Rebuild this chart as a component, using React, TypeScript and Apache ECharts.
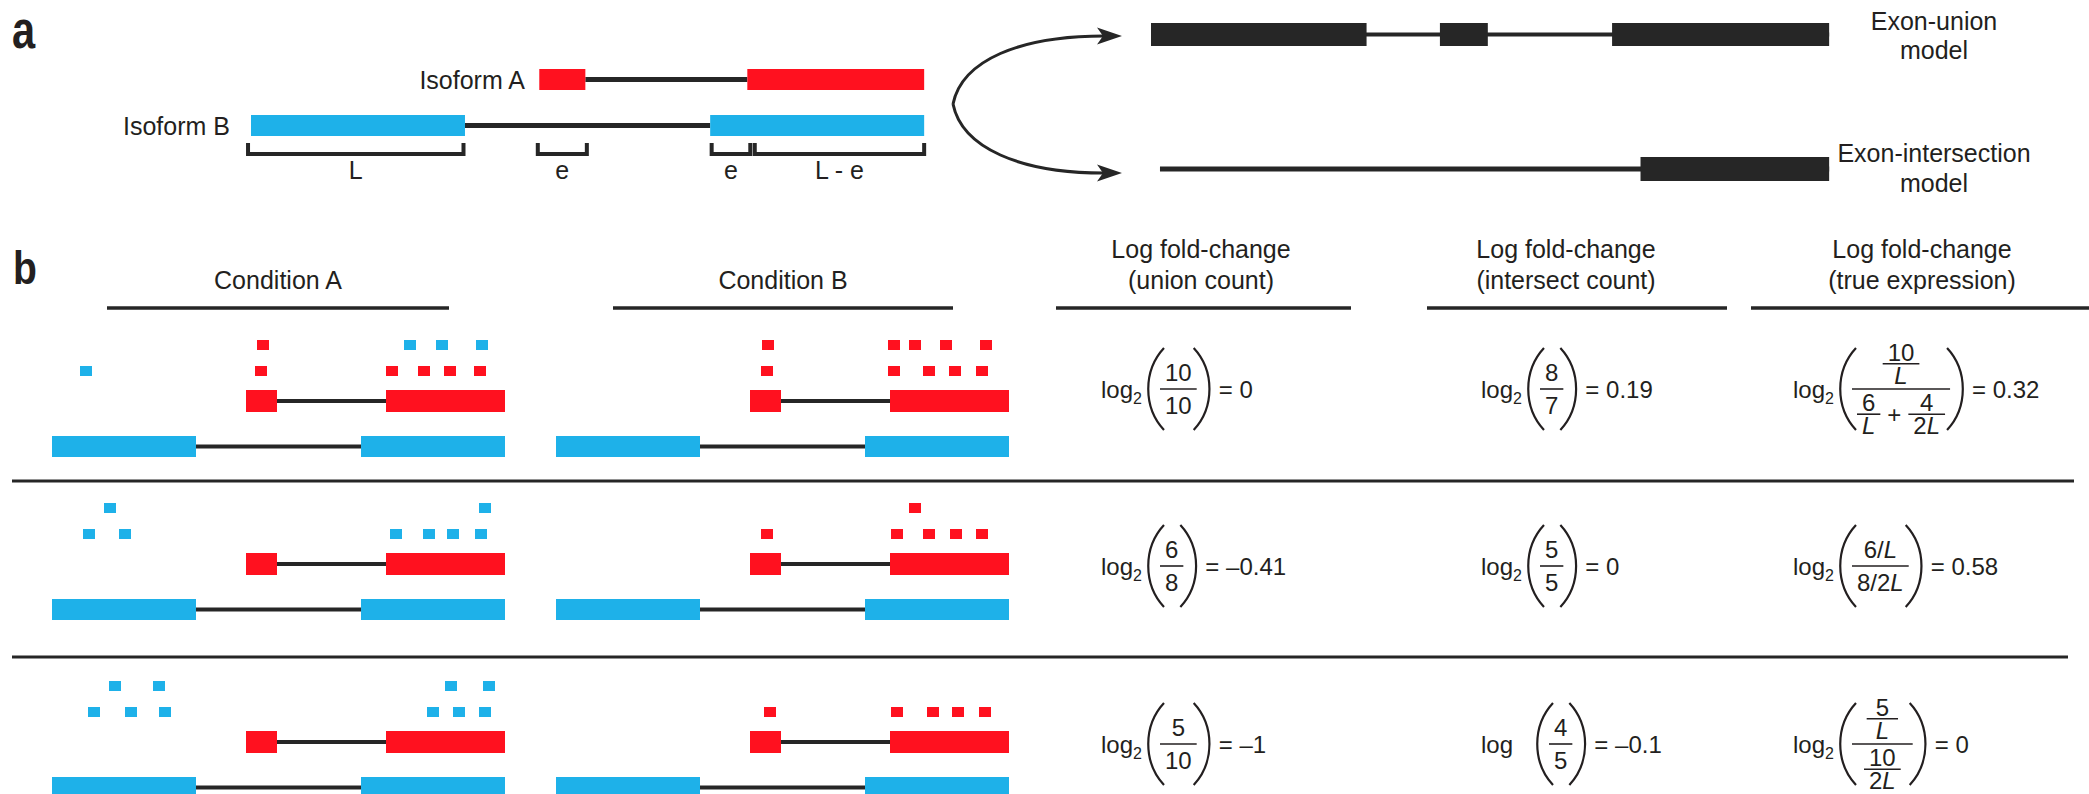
import React, { useEffect, useRef } from "react";
import * as echarts from "echarts";

const W = 2089;
const H = 794;

// ---------------- data ----------------
// gene model, positions along the gene (panel-b units)
const isoformAExons = [[194, 225], [334, 453]];
const isoformBExons = [[0, 144], [309, 453]];
const bracketSpans = [[-2, 143], [193, 226], [310, 336], [339, 453]];
const bracketLabels = ["L", "e", "e", "L - e"];
const unionModelExons = [[0, 144], [193, 225], [308, 453]];
const unionModelSpan = [0, 453];
const intersectModelExons = [[327, 453]];
const intersectModelSpan = [6, 453];

const isoformNames = ["Isoform A", "Isoform B"];
const modelNames = [["Exon-union", "model"], ["Exon-intersection", "model"]];
const conditionNames = ["Condition A", "Condition B"];
const columnTitles = [
  ["Log fold-change", "(union count)"],
  ["Log fold-change", "(intersect count)"],
  ["Log fold-change", "(true expression)"],
];

// reads: [centre along gene, stack level (1 lower, 2 upper), isoform (0 = A red, 1 = B blue)]
const readsRow1CondA = [[34, 1, 1], [209, 1, 0], [211, 2, 0], [340, 1, 0], [372, 1, 0], [398, 1, 0], [428, 1, 0], [358, 2, 1], [390, 2, 1], [430, 2, 1]];
const readsRow1CondB = [[211, 1, 0], [212, 2, 0], [338, 1, 0], [373, 1, 0], [399, 1, 0], [426, 1, 0], [338, 2, 0], [359, 2, 0], [390, 2, 0], [430, 2, 0]];
const readsRow2CondA = [[37, 1, 1], [73, 1, 1], [58, 2, 1], [344, 1, 1], [377, 1, 1], [401, 1, 1], [429, 1, 1], [433, 2, 1]];
const readsRow2CondB = [[211, 1, 0], [341, 1, 0], [373, 1, 0], [400, 1, 0], [426, 1, 0], [359, 2, 0]];
const readsRow3CondA = [[42, 1, 1], [79, 1, 1], [113, 1, 1], [63, 2, 1], [107, 2, 1], [381, 1, 1], [407, 1, 1], [433, 1, 1], [399, 2, 1], [437, 2, 1]];
const readsRow3CondB = [[214, 1, 0], [341, 1, 0], [377, 1, 0], [402, 1, 0], [429, 1, 0]];
const readsByRow = [
  [readsRow1CondA, readsRow1CondB],
  [readsRow2CondA, readsRow2CondB],
  [readsRow3CondA, readsRow3CondB],
];

// formulas
const unionFractions = [["10", "10"], ["6", "8"], ["5", "10"]];
const unionValues = ["0", "\u20130.41", "\u20131"];
const intersectFractions = [["8", "7"], ["5", "5"], ["4", "5"]];
const intersectValues = ["0.19", "0", "\u20130.1"];
const intersectLogBases = ["2", "2", ""];
const trueValues = ["0.32", "0.58", "0"];

// ---------------- layout & style ----------------
const panelA = { x0: 251, scale: 1.486, isoY: [[69, 90], [115, 136]], intronW: 5, bracketY: [143, 154], bracketTextY: 170, nameRightX: [525, 230] };
const models = { x0: 1151, scale: 1.497, unionY: [23, 46], interY: [157, 181], textX: 1934, textY: [[21, 50], [153, 183]] };
const arrowPaths = [
  [953, 104, 962, 60, 1020, 36, 1104, 36],
  [953, 104, 962, 148, 1020, 173, 1104, 173],
];
const arrowTipX = 1122;
const panelB = { condX: [52, 556], rowTop: [390, 553, 731], redH: 22, blueOff: 46, blueH: 21, levelOff: [0, 19, 45], readW: 12, readH: 10, intronW: 4 };
const headerLineY = 308;
const conditionLines = [[107, 449], [613, 953]];
const columnLines = [[1056, 1351], [1427, 1727], [1751, 2089]];
const columnTitleX = [1201, 1566, 1922];
const titleY = [249, 280];
const separators = [[12, 2074, 481], [12, 2068, 657]];
const formulaX = [1101, 1481, 1793];
const formulaY = [389, 566, 744];

const COLORS = ["#FF111F", "#1EB1E9", "#262626"];
const TEXT = "#231F20";
const FONT = '"Liberation Sans", Arial, Helvetica, sans-serif';
const LABEL_FS = 25;
const FS = 24;

// ---------------- text measuring ----------------
let measureCtx: CanvasRenderingContext2D | null = null;
function tw(s: string, size: number, italic = false, bold = false): number {
  if (!measureCtx) measureCtx = document.createElement("canvas").getContext("2d");
  if (!measureCtx) return s.length * size * 0.55;
  measureCtx.font = `${italic ? "italic " : ""}${bold ? "bold " : ""}${size}px ${FONT}`;
  return measureCtx.measureText(s).width;
}

function textEl(s: string, x: number, y: number, size: number, o: any = {}) {
  return {
    type: "text",
    x,
    y,
    scaleX: o.scaleX ?? 1,
    style: {
      text: s,
      fill: TEXT,
      fontSize: size,
      fontFamily: FONT,
      fontWeight: o.bold ? "bold" : "normal",
      fontStyle: o.italic ? "italic" : "normal",
      align: o.align || "left",
      verticalAlign: "middle",
    },
  };
}

// ---------------- formula layout ----------------
type Node = { t: "txt"; s: string } | { t: "frac"; n: Node; d: Node; pad?: number } | { t: "row"; items: Node[] };
const tx = (s: string): Node => ({ t: "txt", s });
const asNode = (v: Node | string): Node => (typeof v === "string" ? tx(v) : v);
const fr = (n: Node | string, d: Node | string, pad?: number): Node => ({ t: "frac", n: asNode(n), d: asNode(d), pad });
const rw = (...items: (Node | string)[]): Node => ({ t: "row", items: items.map(asNode) });

const trueTrees: Node[] = [
  fr(fr("10", "L"), rw(fr("6", "L"), "+", fr("4", "2L"))),
  fr("6/L", "8/2L"),
  fr(fr("5", "L", 9), fr("10", "2L"), 12),
];

const HALF = 8.6;
const PAD = 5;
const SP = 7;

function runsOf(s: string) {
  const out: { s: string; it: boolean }[] = [];
  for (const ch of s) {
    const it = ch === "L";
    const last = out[out.length - 1];
    if (last && last.it === it) last.s += ch;
    else out.push({ s: ch, it });
  }
  return out;
}
function hasFrac(n: Node): boolean {
  return n.t === "frac" || (n.t === "row" && n.items.some(hasFrac));
}
function gapOf(n: any, lvl: number) {
  if (lvl > 0) return 3;
  return hasFrac(n.n) || hasFrac(n.d) ? 5 : 8;
}
function measure(n: Node, lvl: number): { w: number; up: number; down: number } {
  if (n.t === "txt") {
    const w = runsOf(n.s).reduce((a, r) => a + tw(r.s, FS, r.it), 0);
    return { w, up: HALF, down: HALF };
  }
  if (n.t === "row") {
    let w = 0, up = 0, down = 0;
    n.items.forEach((it, i) => {
      const m = measure(it, lvl);
      w += m.w + (i > 0 ? SP : 0);
      up = Math.max(up, m.up);
      down = Math.max(down, m.down);
    });
    return { w, up, down };
  }
  const g = gapOf(n, lvl);
  const a = measure(n.n, lvl + 1);
  const b = measure(n.d, lvl + 1);
  const pad = n.pad ?? PAD;
  return { w: Math.max(a.w, b.w) + 2 * pad, up: g + a.up + a.down, down: g + b.up + b.down };
}
function draw(n: Node, x: number, y: number, lvl: number, out: any[]) {
  if (n.t === "txt") {
    let cx = x;
    runsOf(n.s).forEach((r) => {
      out.push(textEl(r.s, cx, y, FS, { italic: r.it }));
      cx += tw(r.s, FS, r.it);
    });
    return;
  }
  if (n.t === "row") {
    let cx = x;
    n.items.forEach((it) => {
      const m = measure(it, lvl);
      draw(it, cx, y, lvl, out);
      cx += m.w + SP;
    });
    return;
  }
  const m = measure(n, lvl);
  const g = gapOf(n, lvl);
  const a = measure(n.n, lvl + 1);
  const b = measure(n.d, lvl + 1);
  out.push({ type: "line", shape: { x1: x, y1: y, x2: x + m.w, y2: y }, style: { stroke: TEXT, lineWidth: 1.6 } });
  draw(n.n, x + (m.w - a.w) / 2, y - g - a.down, lvl + 1, out);
  draw(n.d, x + (m.w - b.w) / 2, y + g + b.up, lvl + 1, out);
}
function parenEl(xb: number, y: number, dir: number, h: number) {
  const tip = xb + dir * 16;
  const cp = xb - dir * 5;
  return {
    type: "bezierCurve",
    shape: { x1: tip, y1: y - h, cpx1: cp, cpy1: y - h * 0.45, cpx2: cp, cpy2: y + h * 0.45, x2: tip, y2: y + h },
    style: { stroke: TEXT, lineWidth: 2.2, fill: "none" },
  };
}
function buildFormula(f: any, x: number, y: number) {
  const out: any[] = [];
  out.push(textEl("log", x, y, FS));
  if (f.sub) out.push(textEl(f.sub, x + tw("log", FS), y + 9, 16));
  const xb = x + 47 + (f.sub ? 0 : 9);
  const barStart = xb + 12;
  const m = measure(f.node, 0);
  draw(f.node, barStart, y, 0, out);
  const xe = barStart + m.w;
  out.push(parenEl(xb, y, 1, 41));
  out.push(parenEl(xe + 13, y, -1, 41));
  out.push(textEl("= " + f.value, xe + 22, y, FS));
  return out;
}

// ---------------- option ----------------
function buildOption() {
  const ax = (u: number) => panelA.x0 + u * panelA.scale;
  const mx = (u: number) => models.x0 + u * models.scale;

  const rects: number[][] = [];
  const lines: number[][] = [];
  const reads: number[][] = [];
  const brackets: number[][] = [];

  // panel a isoforms
  [isoformAExons, isoformBExons].forEach((ex, iso) => {
    const [y0, y1] = panelA.isoY[iso];
    const yc = (y0 + y1) / 2;
    for (let i = 0; i < ex.length - 1; i++) lines.push([ax(ex[i][1]), yc, ax(ex[i + 1][0]), yc, panelA.intronW]);
    ex.forEach(([s, e]) => rects.push([ax(s), ax(e), y0, y1, iso]));
  });
  bracketSpans.forEach(([s, e]) => brackets.push([ax(s), ax(e), panelA.bracketY[0], panelA.bracketY[1]]));

  // exon-union / exon-intersection models
  const uyc = (models.unionY[0] + models.unionY[1]) / 2;
  const iyc = (models.interY[0] + models.interY[1]) / 2;
  lines.push([mx(unionModelSpan[0]), uyc, mx(unionModelSpan[1]), uyc, 4]);
  lines.push([mx(intersectModelSpan[0]), iyc, mx(intersectModelSpan[1]), iyc, 5]);
  unionModelExons.forEach(([s, e]) => rects.push([mx(s), mx(e), models.unionY[0], models.unionY[1], 2]));
  intersectModelExons.forEach(([s, e]) => rects.push([mx(s), mx(e), models.interY[0], models.interY[1], 2]));

  // panel b gene models + reads
  panelB.rowTop.forEach((top, r) => {
    panelB.condX.forEach((cx, c) => {
      [isoformAExons, isoformBExons].forEach((ex, iso) => {
        const y0 = iso === 0 ? top : top + panelB.blueOff;
        const y1 = iso === 0 ? top + panelB.redH : top + panelB.blueOff + panelB.blueH;
        const yc = (y0 + y1) / 2;
        for (let i = 0; i < ex.length - 1; i++) lines.push([cx + ex[i][1], yc, cx + ex[i + 1][0], yc, panelB.intronW]);
        ex.forEach(([s, e]) => rects.push([cx + s, cx + e, y0, y1, iso]));
      });
      readsByRow[r][c].forEach(([pos, lvl, iso]) => reads.push([cx + pos, top - panelB.levelOff[lvl], iso]));
    });
  });

  // header lines and separators
  [...conditionLines, ...columnLines].forEach(([a, b]) => lines.push([a, headerLineY, b, headerLineY, 3.5]));
  separators.forEach(([a, b, y]) => lines.push([a, y, b, y, 3]));

  // texts
  const texts: any[] = [];
  texts.push({ s: "a", x: 12, y: 30, size: 52, bold: true, scaleX: 0.8 });
  texts.push({ s: "b", x: 13, y: 268, size: 46, bold: true, scaleX: 0.85 });
  isoformNames.forEach((s, iso) =>
    texts.push({ s, x: panelA.nameRightX[iso], y: (panelA.isoY[iso][0] + panelA.isoY[iso][1]) / 2, size: LABEL_FS, align: "right" })
  );
  bracketSpans.forEach(([s, e], i) =>
    texts.push({ s: bracketLabels[i], x: (ax(s) + ax(e)) / 2, y: panelA.bracketTextY, size: LABEL_FS, align: "center" })
  );
  modelNames.forEach((pair, k) =>
    pair.forEach((s, j) => texts.push({ s, x: models.textX, y: models.textY[k][j], size: LABEL_FS, align: "center" }))
  );
  conditionNames.forEach((s, c) =>
    texts.push({ s, x: (conditionLines[c][0] + conditionLines[c][1]) / 2, y: titleY[1], size: LABEL_FS, align: "center" })
  );
  columnTitles.forEach((pair, k) =>
    pair.forEach((s, j) => texts.push({ s, x: columnTitleX[k], y: titleY[j], size: LABEL_FS, align: "center" }))
  );

  // formulas
  const formulas: any[] = [];
  for (let r = 0; r < 3; r++) {
    formulas.push({ x: formulaX[0], y: formulaY[r], sub: "2", node: fr(unionFractions[r][0], unionFractions[r][1]), value: unionValues[r] });
    formulas.push({ x: formulaX[1], y: formulaY[r], sub: intersectLogBases[r], node: fr(intersectFractions[r][0], intersectFractions[r][1]), value: intersectValues[r] });
    formulas.push({ x: formulaX[2], y: formulaY[r], sub: "2", node: trueTrees[r], value: trueValues[r] });
  }

  const base = { type: "custom", coordinateSystem: "cartesian2d", silent: true, clip: false, xAxisIndex: 0, yAxisIndex: 0 };

  return {
    animation: false,
    backgroundColor: "#ffffff",
    grid: { left: 0, right: 0, top: 0, bottom: 0, containLabel: false },
    xAxis: { type: "value", min: 0, max: W, show: false },
    yAxis: { type: "value", min: 0, max: H, inverse: true, show: false },
    series: [
      {
        ...base,
        name: "lines",
        z: 1,
        data: lines,
        renderItem: (_p: any, api: any) => {
          const a = api.coord([api.value(0), api.value(1)]);
          const b = api.coord([api.value(2), api.value(3)]);
          return { type: "line", shape: { x1: a[0], y1: a[1], x2: b[0], y2: b[1] }, style: { stroke: COLORS[2], lineWidth: api.value(4) } };
        },
      },
      {
        ...base,
        name: "exons",
        z: 2,
        data: rects,
        renderItem: (_p: any, api: any) => {
          const a = api.coord([api.value(0), api.value(2)]);
          const b = api.coord([api.value(1), api.value(3)]);
          return {
            type: "rect",
            shape: { x: Math.min(a[0], b[0]), y: Math.min(a[1], b[1]), width: Math.abs(b[0] - a[0]), height: Math.abs(b[1] - a[1]) },
            style: { fill: COLORS[api.value(4)] },
          };
        },
      },
      {
        ...base,
        name: "reads",
        z: 3,
        data: reads,
        renderItem: (_p: any, api: any) => {
          const c = api.coord([api.value(0), api.value(1)]);
          const s = api.size([panelB.readW, panelB.readH]);
          return { type: "rect", shape: { x: c[0] - s[0] / 2, y: c[1] - s[1] / 2, width: s[0], height: s[1] }, style: { fill: COLORS[api.value(2)] } };
        },
      },
      {
        ...base,
        name: "brackets",
        z: 3,
        data: brackets,
        renderItem: (_p: any, api: any) => {
          const a = api.coord([api.value(0), api.value(2)]);
          const b = api.coord([api.value(1), api.value(3)]);
          return {
            type: "polyline",
            shape: { points: [[a[0], a[1]], [a[0], b[1]], [b[0], b[1]], [b[0], a[1]]] },
            style: { stroke: COLORS[2], lineWidth: 4, fill: "none" },
          };
        },
      },
      {
        ...base,
        name: "arrows",
        z: 3,
        data: arrowPaths,
        renderItem: (_p: any, api: any) => {
          const p0 = api.coord([api.value(0), api.value(1)]);
          const c1 = api.coord([api.value(2), api.value(3)]);
          const c2 = api.coord([api.value(4), api.value(5)]);
          const p1 = api.coord([api.value(6), api.value(7)]);
          const tip = api.coord([arrowTipX, api.value(7)]);
          return {
            type: "group",
            children: [
              {
                type: "bezierCurve",
                shape: { x1: p0[0], y1: p0[1], cpx1: c1[0], cpy1: c1[1], cpx2: c2[0], cpy2: c2[1], x2: p1[0], y2: p1[1] },
                style: { stroke: COLORS[2], lineWidth: 3, fill: "none" },
              },
              {
                type: "polygon",
                shape: { points: [[tip[0], tip[1]], [tip[0] - 25, tip[1] - 8.5], [tip[0] - 19, tip[1]], [tip[0] - 25, tip[1] + 8.5]] },
                style: { fill: COLORS[2] },
              },
            ],
          };
        },
      },
      {
        ...base,
        name: "texts",
        z: 4,
        data: texts.map((t) => [t.x, t.y]),
        renderItem: (params: any, api: any) => {
          const t = texts[params.dataIndex];
          const p = api.coord([api.value(0), api.value(1)]);
          return textEl(t.s, p[0], p[1], t.size, t);
        },
      },
      {
        ...base,
        name: "formulas",
        z: 4,
        data: formulas.map((f) => [f.x, f.y]),
        renderItem: (params: any, api: any) => {
          const f = formulas[params.dataIndex];
          const p = api.coord([api.value(0), api.value(1)]);
          return { type: "group", children: buildFormula(f, p[0], p[1]) };
        },
      },
    ],
  };
}

export default function App() {
  const ref = useRef<HTMLDivElement>(null);
  useEffect(() => {
    if (!ref.current) return;
    const chart = echarts.init(ref.current, null, { renderer: "svg" });
    chart.setOption(buildOption() as any);
    return () => chart.dispose();
  }, []);
  return (
    <div
      ref={ref}
      style={{ position: "absolute", left: 0, top: 0, width: W, height: H, background: "#ffffff" }}
    />
  );
}
